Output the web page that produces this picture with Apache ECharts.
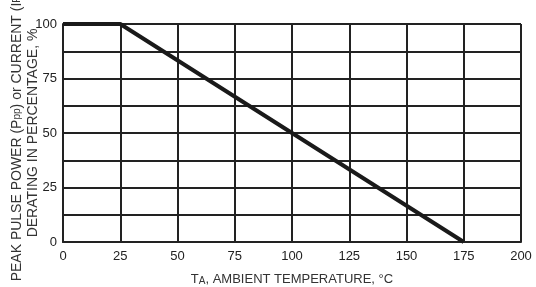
<!DOCTYPE html>
<html>
<head>
<meta charset="utf-8">
<script src="https://cdn.jsdelivr.net/npm/echarts@6/dist/echarts.min.js"></script>
<style>
  html, body { margin: 0; padding: 0; background: #fff; }
  #chart { width: 536px; height: 287px; }
</style>
</head>
<body>
<div id="chart"></div>
<script>
// 降额曲线数据
const temperature = [0, 25, 175];
const derating = [100, 100, 0];
const xTicks = [0, 25, 50, 75, 100, 125, 150, 175, 200];
const yTicks = [0, 25, 50, 75, 100];

const chart = echarts.init(document.getElementById('chart'));
const font = '"Liberation Sans", Arial, sans-serif';
const gridLine = { show: true, lineStyle: { color: '#222', width: 2 } };

chart.setOption({
    animation: false,
    backgroundColor: '#fff',
    grid: { left: 63, right: 15, top: 24, bottom: 45, containLabel: false, outerBoundsMode: 'none' },
    xAxis: {
        type: 'value',
        min: 0,
        max: 200,
        interval: 25,
        axisLine: { lineStyle: { color: '#222', width: 2 } },
        axisTick: { show: false },
        splitLine: gridLine,
        axisLabel: {
            color: '#222', fontSize: 13, fontFamily: font, margin: 8,
            formatter: v => xTicks.includes(v) ? String(v) : ''
        },
        name: '{t|T}{s|A}{t|, AMBIENT TEMPERATURE, °C}',
        nameLocation: 'middle',
        nameGap: 30,
        nameMoveOverlap: false,
        nameTextStyle: {
            rich: {
                t: { fontSize: 13, fontFamily: font, color: '#333' },
                s: { fontSize: 10, fontFamily: font, color: '#333', padding: [4, 0, 0, 0] }
            }
        }
    },
    yAxis: {
        type: 'value',
        min: 0,
        max: 100,
        interval: 12.5,
        axisLine: { show: true, lineStyle: { color: '#222', width: 2 } },
        axisTick: { show: false },
        splitLine: gridLine,
        axisLabel: {
            color: '#222', fontSize: 13, fontFamily: font, margin: 6,
            formatter: v => yTicks.includes(v) ? String(v) : ''
        },
        name: '{t|PEAK PULSE POWER (P}{s|pp}{t|) or CURRENT (I}{s|PP}{t|)}\n{t|DERATING IN PERCENTAGE, %}',
        nameLocation: 'middle',
        nameRotate: 90,
        nameGap: 22,
        nameMoveOverlap: false,
        nameTextStyle: {
            lineHeight: 16,
            rich: {
                t: { fontSize: 14, fontFamily: font, color: '#333', lineHeight: 16 },
                s: { fontSize: 10, fontFamily: font, color: '#333', lineHeight: 16 }
            }
        }
    },
    series: [{
        type: 'line',
        data: temperature.map((t, i) => [t, derating[i]]),
        symbol: 'none',
        lineStyle: { color: '#1a1a1a', width: 4 }
    }]
});
</script>
</body>
</html>
